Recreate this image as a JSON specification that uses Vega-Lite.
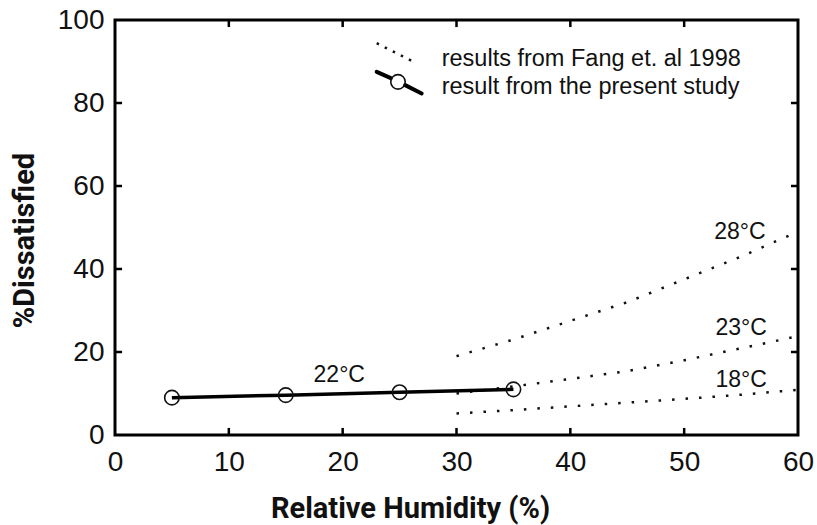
{
  "$schema": "https://vega.github.io/schema/vega-lite/v6.json",
  "width": 683,
  "height": 415,
  "autosize": "none",
  "padding": {"left": 115, "top": 20, "right": 19, "bottom": 90},
  "background": "white",
  "config": {
    "font": "Liberation Sans",
    "view": {"stroke": "#000", "strokeWidth": 3},
    "axis": {
      "domain": false,
      "grid": false,
      "ticks": false,
      "labelFont": "Liberation Sans",
      "labelFontSize": 28,
      "labelColor": "#111",
      "labelFlush": false,
      "labelOverlap": false,
      "labelBound": false,
      "titleFont": "Roboto",
      "titleFontWeight": "bold",
      "titleFontSize": 29,
      "titleColor": "#111"
    }
  },
  "datasets": {
    "fang": [
      {"series": "28", "rh": 30, "pd": 19.0},
      {"series": "28", "rh": 35, "pd": 23.0},
      {"series": "28", "rh": 40, "pd": 27.5},
      {"series": "28", "rh": 45, "pd": 32.0},
      {"series": "28", "rh": 50, "pd": 37.5},
      {"series": "28", "rh": 55, "pd": 43.0},
      {"series": "28", "rh": 60, "pd": 49.0},
      {"series": "23", "rh": 30, "pd": 10.0},
      {"series": "23", "rh": 35, "pd": 11.7},
      {"series": "23", "rh": 40, "pd": 13.5},
      {"series": "23", "rh": 45, "pd": 15.4},
      {"series": "23", "rh": 50, "pd": 18.0},
      {"series": "23", "rh": 55, "pd": 20.9},
      {"series": "23", "rh": 60, "pd": 23.8},
      {"series": "18", "rh": 30, "pd": 5.2},
      {"series": "18", "rh": 35, "pd": 6.0},
      {"series": "18", "rh": 40, "pd": 6.9},
      {"series": "18", "rh": 45, "pd": 7.8},
      {"series": "18", "rh": 50, "pd": 8.7},
      {"series": "18", "rh": 55, "pd": 9.7},
      {"series": "18", "rh": 60, "pd": 10.9}
    ],
    "fangLegend": [
      {"rh": 22.99, "pd": 94.4},
      {"rh": 26.18, "pd": 90.0}
    ],
    "present": [
      {"series": "22", "rh": 5, "pd": 9.0},
      {"series": "22", "rh": 15, "pd": 9.6},
      {"series": "22", "rh": 25, "pd": 10.3},
      {"series": "22", "rh": 35, "pd": 11.0}
    ],
    "presentLegend": [
      {"series": "legendA", "rh": 22.99, "pd": 87.5},
      {"series": "legendA", "rh": 24.23, "pd": 86.0},
      {"series": "legendB", "rh": 25.49, "pd": 84.3},
      {"series": "legendB", "rh": 26.94, "pd": 82.3}
    ],
    "points": [
      {"rh": 5, "pd": 9.0},
      {"rh": 15, "pd": 9.6},
      {"rh": 25, "pd": 10.3},
      {"rh": 35, "pd": 11.0},
      {"rh": 24.86, "pd": 85.1}
    ],
    "temps": [
      {"label": "28°C", "rh": 54.9, "pd": 49.0},
      {"label": "23°C", "rh": 55.0, "pd": 25.8},
      {"label": "18°C", "rh": 55.0, "pd": 13.3},
      {"label": "22°C", "rh": 19.7, "pd": 14.5}
    ],
    "legendText": [
      {"label": "results from Fang et. al 1998", "rh": 28.7, "pd": 90.6},
      {"label": "result from the present study", "rh": 28.7, "pd": 83.9}
    ],
    "xticks": [{"v": 10}, {"v": 20}, {"v": 30}, {"v": 40}, {"v": 50}],
    "yticks": [{"v": 20}, {"v": 40}, {"v": 60}, {"v": 80}]
  },
  "layer": [
    {
      "data": {"name": "fang"},
      "mark": {"type": "line", "stroke": "#111", "strokeWidth": 2.5, "strokeDash": [2.5, 11], "strokeCap": "butt"},
      "encoding": {
        "x": {"field": "rh", "type": "quantitative", "scale": {"domain": [0, 60], "nice": false, "zero": false},
              "axis": {"orient": "bottom", "values": [0, 10, 20, 30, 40, 50, 60], "title": "Relative Humidity (%)",
                       "labelPadding": 13, "titleX": 295, "titleY": 82, "titleBaseline": "alphabetic", "titleAnchor": null}},
        "y": {"field": "pd", "type": "quantitative", "scale": {"domain": [0, 100], "nice": false},
              "axis": {"orient": "left", "values": [0, 20, 40, 60, 80, 100], "title": "%Dissatisfied",
                       "labelPadding": 11, "titleX": -82, "titleY": 220, "titleBaseline": "alphabetic", "titleAngle": -90}},
        "detail": {"field": "series"}
      }
    },
    {
      "data": {"name": "xticks"},
      "mark": {"type": "rule", "stroke": "#000", "strokeWidth": 2.5},
      "encoding": {
        "x": {"field": "v", "type": "quantitative"},
        "y": {"datum": 0},
        "y2": {"datum": 1.7}
      }
    },
    {
      "data": {"name": "xticks"},
      "mark": {"type": "rule", "stroke": "#000", "strokeWidth": 2.5},
      "encoding": {
        "x": {"field": "v", "type": "quantitative"},
        "y": {"datum": 100},
        "y2": {"datum": 98.3}
      }
    },
    {
      "data": {"name": "yticks"},
      "mark": {"type": "rule", "stroke": "#000", "strokeWidth": 2.5},
      "encoding": {
        "y": {"field": "v", "type": "quantitative"},
        "x": {"datum": 0},
        "x2": {"datum": 0.62}
      }
    },
    {
      "data": {"name": "yticks"},
      "mark": {"type": "rule", "stroke": "#000", "strokeWidth": 2.5},
      "encoding": {
        "y": {"field": "v", "type": "quantitative"},
        "x": {"datum": 60},
        "x2": {"datum": 59.38}
      }
    },
    {
      "data": {"name": "fangLegend"},
      "mark": {"type": "line", "stroke": "#111", "strokeWidth": 2.5, "strokeDash": [2.5, 6.5], "strokeCap": "butt"},
      "encoding": {
        "x": {"field": "rh", "type": "quantitative"},
        "y": {"field": "pd", "type": "quantitative"}
      }
    },
    {
      "data": {"name": "present"},
      "mark": {"type": "line", "stroke": "#000", "strokeWidth": 3.5},
      "encoding": {
        "x": {"field": "rh", "type": "quantitative"},
        "y": {"field": "pd", "type": "quantitative"},
        "detail": {"field": "series"}
      }
    },
    {
      "data": {"name": "presentLegend"},
      "mark": {"type": "line", "stroke": "#000", "strokeWidth": 4, "strokeCap": "round"},
      "encoding": {
        "x": {"field": "rh", "type": "quantitative"},
        "y": {"field": "pd", "type": "quantitative"},
        "detail": {"field": "series"}
      }
    },
    {
      "data": {"name": "points"},
      "mark": {"type": "point", "shape": "circle", "filled": false, "size": 210, "stroke": "#111", "strokeWidth": 1.6, "opacity": 1},
      "encoding": {
        "x": {"field": "rh", "type": "quantitative"},
        "y": {"field": "pd", "type": "quantitative"}
      }
    },
    {
      "data": {"name": "temps"},
      "mark": {"type": "text", "align": "center", "baseline": "middle", "fontSize": 23, "font": "Liberation Sans", "color": "#111"},
      "encoding": {
        "x": {"field": "rh", "type": "quantitative"},
        "y": {"field": "pd", "type": "quantitative"},
        "text": {"field": "label"}
      }
    },
    {
      "data": {"name": "legendText"},
      "mark": {"type": "text", "align": "left", "baseline": "middle", "fontSize": 23.5, "font": "Liberation Sans", "color": "#111"},
      "encoding": {
        "x": {"field": "rh", "type": "quantitative"},
        "y": {"field": "pd", "type": "quantitative"},
        "text": {"field": "label"}
      }
    }
  ]
}
